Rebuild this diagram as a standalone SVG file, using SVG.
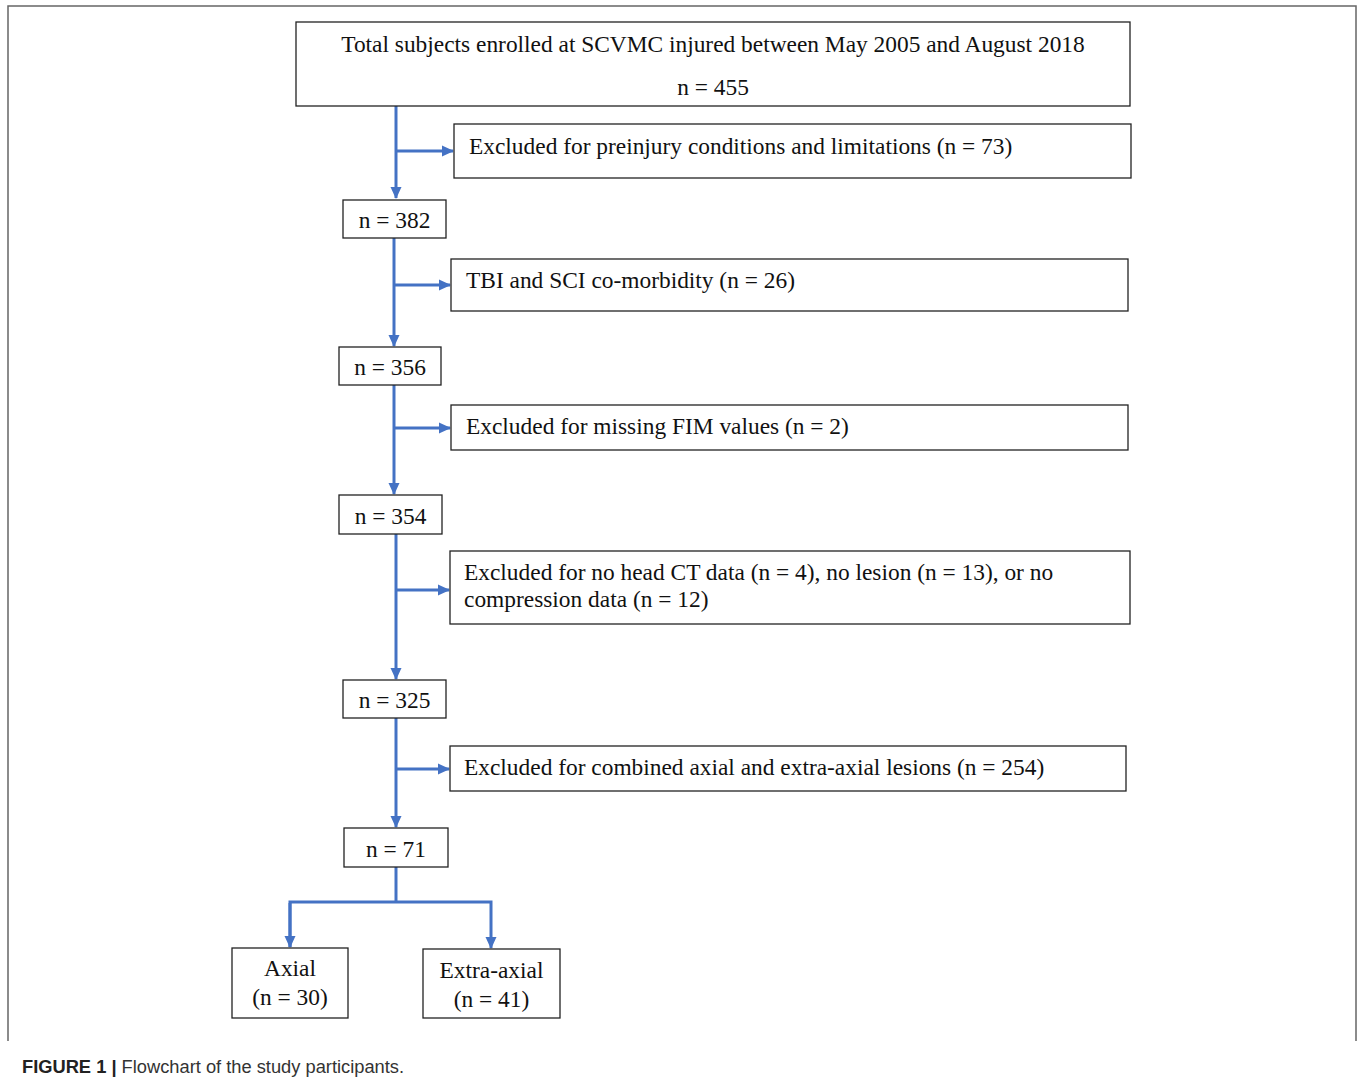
<svg xmlns="http://www.w3.org/2000/svg" width="1358" height="1085" viewBox="0 0 1358 1085">
<defs>
<marker id="ah" markerWidth="12" markerHeight="12" refX="11" refY="6" orient="auto" markerUnits="userSpaceOnUse">
<path d="M0,0.5 L12,6 L0,11.5 z" fill="#4472C4"/>
</marker>
<style>
.box{fill:#fff;stroke:#222;stroke-width:1.3}
.t{font-family:"Liberation Serif","Times New Roman",serif;font-size:23.4px;fill:#111}
.c{stroke:#4472C4;stroke-width:3;fill:none}
.cap{font-family:"Liberation Sans",Arial,sans-serif;font-size:18.3px;fill:#333}
</style>
</defs>
<rect width="1358" height="1085" fill="#fff"/>
<path d="M8,1041 V6 H1356 V1041" fill="none" stroke="#666" stroke-width="1.5"/>
<g id="connectors">
<path class="c" d="M396,106 V198" marker-end="url(#ah)"/>
<path class="c" d="M396,151 H453" marker-end="url(#ah)"/>
<path class="c" d="M394,238 V346" marker-end="url(#ah)"/>
<path class="c" d="M394,285 H450" marker-end="url(#ah)"/>
<path class="c" d="M394,385 V494" marker-end="url(#ah)"/>
<path class="c" d="M394,428 H450" marker-end="url(#ah)"/>
<path class="c" d="M396,534 V679" marker-end="url(#ah)"/>
<path class="c" d="M396,590 H449" marker-end="url(#ah)"/>
<path class="c" d="M396,718 V827" marker-end="url(#ah)"/>
<path class="c" d="M396,769 H449" marker-end="url(#ah)"/>
<path class="c" d="M396,867 V902"/>
<path class="c" d="M290,947 V902 H491 V948" marker-end="url(#ah)"/>
<path class="c" d="M290,903 V947" marker-end="url(#ah)"/>
</g>
<g id="n-total">
<rect class="box" x="296" y="22" width="834" height="84"/>
<text class="t" x="713" y="52" text-anchor="middle">Total subjects enrolled at SCVMC injured between May 2005 and August 2018</text>
<text class="t" x="713" y="95" text-anchor="middle">n = 455</text>
</g>
<g id="n-ex1">
<rect class="box" x="454" y="124" width="677" height="54"/>
<text class="t" x="469" y="154">Excluded for preinjury conditions and limitations (n = 73)</text>
</g>
<g id="n-382">
<rect class="box" x="343" y="200" width="103" height="38"/>
<text class="t" x="394.5" y="228" text-anchor="middle">n = 382</text>
</g>
<g id="n-ex2">
<rect class="box" x="451" y="259" width="677" height="52"/>
<text class="t" x="466" y="288">TBI and SCI co-morbidity (n = 26)</text>
</g>
<g id="n-356">
<rect class="box" x="339" y="347" width="102" height="38"/>
<text class="t" x="390" y="375" text-anchor="middle">n = 356</text>
</g>
<g id="n-ex3">
<rect class="box" x="451" y="405" width="677" height="45"/>
<text class="t" x="466" y="434">Excluded for missing FIM values (n = 2)</text>
</g>
<g id="n-354">
<rect class="box" x="339" y="495" width="103" height="39"/>
<text class="t" x="390.5" y="524" text-anchor="middle">n = 354</text>
</g>
<g id="n-ex4">
<rect class="box" x="450" y="551" width="680" height="73"/>
<text class="t" x="464" y="580">Excluded for no head CT data (n = 4), no lesion (n = 13), or no</text>
<text class="t" x="464" y="607">compression data (n = 12)</text>
</g>
<g id="n-325">
<rect class="box" x="343" y="680" width="103" height="38"/>
<text class="t" x="394.5" y="708" text-anchor="middle">n = 325</text>
</g>
<g id="n-ex5">
<rect class="box" x="450" y="746" width="676" height="45"/>
<text class="t" x="464" y="775">Excluded for combined axial and extra-axial lesions (n = 254)</text>
</g>
<g id="n-71">
<rect class="box" x="344" y="828" width="104" height="39"/>
<text class="t" x="396" y="857" text-anchor="middle">n = 71</text>
</g>
<g id="n-axial">
<rect class="box" x="232" y="948" width="116" height="70"/>
<text class="t" x="290" y="976" text-anchor="middle">Axial</text>
<text class="t" x="290" y="1005" text-anchor="middle">(n = 30)</text>
</g>
<g id="n-extra">
<rect class="box" x="423" y="949" width="137" height="69"/>
<text class="t" x="491.5" y="978" text-anchor="middle">Extra-axial</text>
<text class="t" x="491.5" y="1007" text-anchor="middle">(n = 41)</text>
</g>
<text class="cap" x="22" y="1073"><tspan font-weight="bold" fill="#222">FIGURE 1 |</tspan> Flowchart of the study participants.</text>
</svg>
